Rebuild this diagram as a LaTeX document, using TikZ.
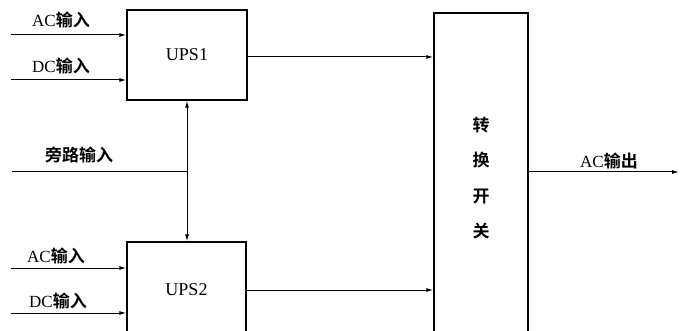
\documentclass[tikz,border=0pt]{standalone}
\usepackage{fontspec}
\setmainfont{Liberation Serif}
\newfontfamily\cjk{Noto Sans CJK SC}[BoldFont={Noto Sans CJK SC Bold}]
\usetikzlibrary{arrows.meta}
\begin{document}
\begin{tikzpicture}[x=1pt,y=-1pt,
  blk/.style={draw,line width=1.4pt,inner sep=0pt,font=\fontsize{18}{20}\selectfont},
  lbl/.style={inner sep=0pt,font=\fontsize{17}{20}\selectfont},
  ln/.style={line width=1pt},
  arr/.style={ln,-{Latex[length=7pt,width=4pt]}}]
\useasboundingbox (0,0) rectangle (680,331);
\clip (0,0) rectangle (680,331);
\node[blk,minimum width=120pt,minimum height=90pt] (ups1) at (187,55) {UPS1};
\node[blk,minimum width=119pt,minimum height=96pt] (ups2) at (186.5,290) {UPS2};
\node[blk,minimum width=94pt,minimum height=330pt] (sw) at (481,178) {};
\node[lbl,align=center,font=\cjk\bfseries\fontsize{17}{35.5}\selectfont] (swt) at (481,178) {转\\换\\开\\关};
% inputs UPS1
\coordinate (a1) at (11,35);
\coordinate (d1) at (11,80);
\draw[arr] (a1) -- (a1 -| ups1.west);
\draw[arr] (d1) -- (d1 -| ups1.west);
\node[lbl,anchor=west] (ta1) at (32,20) {AC{\cjk\bfseries 输入}};
\node[lbl,anchor=west] (td1) at (32,66) {DC{\cjk\bfseries 输入}};
% inputs UPS2
\coordinate (a2) at (11,268);
\coordinate (d2) at (11,313);
\draw[arr] (a2) -- (a2 -| ups2.west);
\draw[arr] (d2) -- (d2 -| ups2.west);
\node[lbl,anchor=west] (ta2) at (27,256) {AC{\cjk\bfseries 输入}};
\node[lbl,anchor=west] (td2) at (29,301) {DC{\cjk\bfseries 输入}};
% bypass
\coordinate (bp) at (12,172);
\coordinate (bj) at (187,172);
\draw[ln] (bp) -- (bj);
\node[lbl,anchor=west] (tbp) at (45,155) {\cjk\bfseries 旁路输入};
\draw[arr] (bj) -- (ups1.south);
\draw[arr] (bj) -- (bj |- ups2.north);
% outputs to switch
\coordinate (o1) at (247,57);
\coordinate (o2) at (246,290);
\draw[arr] (o1) -- (o1 -| sw.west);
\draw[arr] (o2) -- (o2 -| sw.west);
% AC output
\coordinate (out) at (679,172);
\draw[arr] (sw.east |- out) -- (out);
\node[lbl,anchor=west] (tout) at (580,161) {AC{\cjk\bfseries 输出}};
\end{tikzpicture}
\end{document}
